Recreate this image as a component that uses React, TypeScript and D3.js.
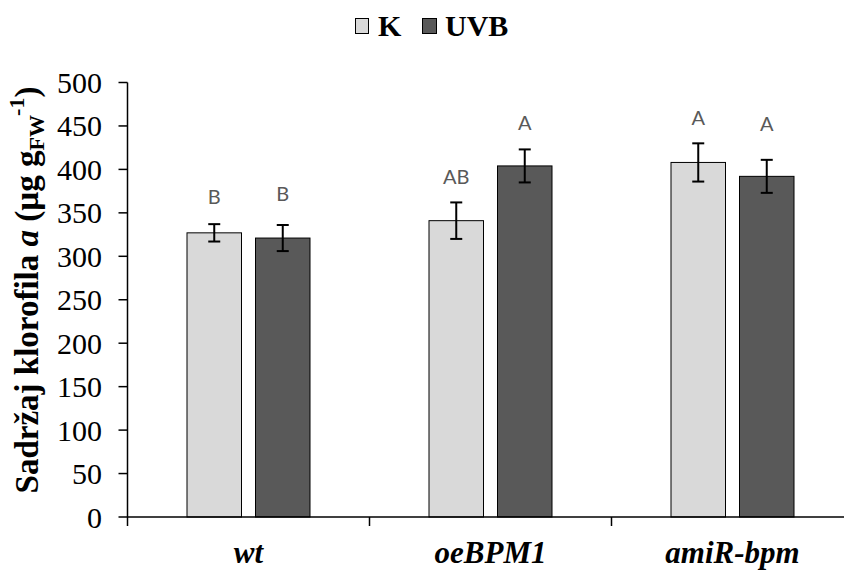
import React from "react";
import * as d3 from "d3";

const categories = ["wt", "oeBPM1", "amiR-bpm"];
const seriesNames = ["K", "UVB"];
const seriesColors = ["#d9d9d9", "#595959"];
const valuesK = [327, 341, 408];
const valuesUVB = [321, 404, 392];
const errK = [10, 21, 22];
const errUVB = [15, 19, 19];
const lettersK = ["B", "AB", "A"];
const lettersUVB = ["B", "A", "A"];
const letterPosK = [369, 392, 459];
const letterPosUVB = [372, 454, 452];
const yTicks = [0, 50, 100, 150, 200, 250, 300, 350, 400, 450, 500];

const W = 844;
const H = 570;
const left = 127.5;
const top = 82.5;
const bottom = 517;
const bandW = 242;

const serif = "'Liberation Serif', 'Times New Roman', serif";
const sans = "Lato, Carlito, 'Open Sans', sans-serif";

export default function App() {
  const y = d3.scaleLinear().domain([0, 500]).range([bottom, top]);
  const x = d3
    .scaleBand<string>()
    .domain(categories)
    .range([left, left + bandW * categories.length])
    .paddingInner(0)
    .paddingOuter(0);
  const barW = 54.5;
  const gap = 14;
  const series = [
    { name: seriesNames[0], color: seriesColors[0], vals: valuesK, errs: errK, letters: lettersK, lpos: letterPosK },
    { name: seriesNames[1], color: seriesColors[1], vals: valuesUVB, errs: errUVB, letters: lettersUVB, lpos: letterPosUVB },
  ];

  return (
    <svg width={W} height={H} style={{ position: "absolute", left: 0, top: 0, background: "#fff" }}>
      {/* legend */}
      <g fontFamily={serif} fontWeight="bold" fontSize={30}>
        <rect x={355.5} y={18.5} width={13} height={15} fill={seriesColors[0]} stroke="#000" strokeWidth={1} />
        <text x={378} y={36}>{seriesNames[0]}</text>
        <rect x={422.5} y={18.5} width={14} height={15} fill={seriesColors[1]} stroke="#000" strokeWidth={1} />
        <text x={445} y={36}>{seriesNames[1]}</text>
      </g>

      {/* bars */}
      {categories.map((c, i) => {
        const cx = (x(c) as number) + x.bandwidth() / 2;
        return (
          <g key={c}>
            {series.map((s, j) => {
              const bx = j === 0 ? cx - gap / 2 - barW : cx + gap / 2;
              const mid = bx + barW / 2;
              const v = s.vals[i];
              const e = s.errs[i];
              return (
                <g key={s.name}>
                  <rect x={bx} y={y(v)} width={barW} height={y(0) - y(v)} fill={s.color} stroke="#000" strokeWidth={1} />
                  <g stroke="#000" strokeWidth={2}>
                    <line x1={mid} x2={mid} y1={y(v + e)} y2={y(v - e)} />
                    <line x1={mid - 6} x2={mid + 6} y1={y(v + e)} y2={y(v + e)} />
                    <line x1={mid - 6} x2={mid + 6} y1={y(v - e)} y2={y(v - e)} />
                  </g>
                  <text x={mid} y={y(s.lpos[i])} dy="0.36em" textAnchor="middle" fontFamily={sans} fontSize={20} fill="#595959">
                    {s.letters[i]}
                  </text>
                </g>
              );
            })}
          </g>
        );
      })}

      {/* y axis */}
      <line x1={left} x2={left} y1={top} y2={bottom} stroke="#000" strokeWidth={1.5} />
      {yTicks.map((t) => (
        <g key={t}>
          <line x1={left - 9} x2={left} y1={y(t)} y2={y(t)} stroke="#000" strokeWidth={1.5} />
          <text x={102} y={y(t) + 10.5} textAnchor="end" fontFamily={serif} fontSize={30}>
            {t}
          </text>
        </g>
      ))}

      {/* x axis */}
      <line x1={left} x2={W} y1={bottom} y2={bottom} stroke="#000" strokeWidth={1.5} />
      {d3.range(categories.length + 1).map((k) => (
        <line key={k} x1={left + k * bandW} x2={left + k * bandW} y1={bottom} y2={bottom + 9} stroke="#000" strokeWidth={1.5} />
      ))}
      {categories.map((c) => (
        <text
          key={c}
          x={(x(c) as number) + x.bandwidth() / 2}
          y={563}
          textAnchor="middle"
          fontFamily={serif}
          fontSize={31}
          fontWeight="bold"
          fontStyle="italic"
        >
          {c}
        </text>
      ))}

      {/* y label */}
      <text
        transform="translate(38,290) rotate(-90)"
        textAnchor="middle"
        fontFamily={serif}
        fontSize={33}
        fontWeight="bold"
      >
        Sadržaj klorofila <tspan fontStyle="italic">a</tspan> (µg g
        <tspan fontSize={22} dy={6}>FW</tspan>
        <tspan fontSize={22} dy={-20}>-1</tspan>
        <tspan dy={14}>)</tspan>
      </text>
    </svg>
  );
}
